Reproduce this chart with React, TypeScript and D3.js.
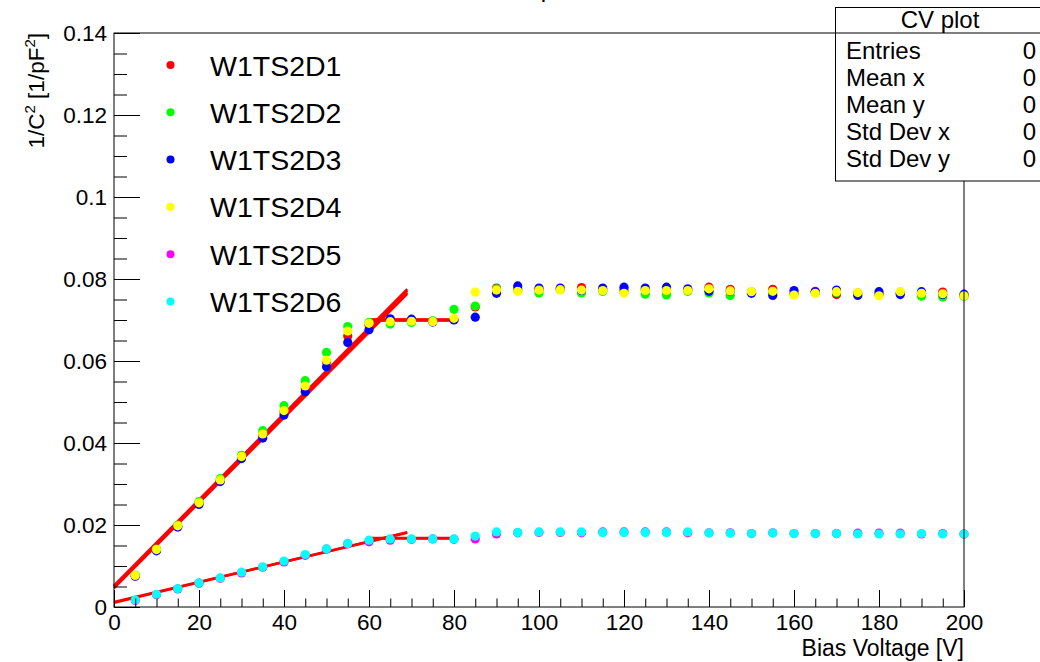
import { useEffect, useRef } from "react";
import * as d3 from "d3";

// bias voltage in V
const voltage = [
  5, 10, 15, 20, 25, 30, 35, 40, 45, 50, 55, 60, 65, 70, 75, 80, 85, 90, 95, 100,
  105, 110, 115, 120, 125, 130, 135, 140, 145, 150, 155, 160, 165, 170, 175, 180,
  185, 190, 195, 200,
];

// 1/C^2 in 1/pF^2
const d1 = [
  0.0076, 0.0139, 0.0197, 0.0253, 0.0309, 0.0365, 0.042, 0.0477, 0.0534, 0.0598,
  0.0661, 0.0688, 0.0697, 0.0699, 0.0697, 0.0701, 0.0732, 0.0778, 0.0776, 0.0774,
  0.0775, 0.0779, 0.0774, 0.0773, 0.0773, 0.0772, 0.0773, 0.078, 0.0775, 0.0768,
  0.0775, 0.0765, 0.077, 0.0762, 0.0766, 0.0763, 0.0766, 0.0765, 0.0768, 0.076,
];
const d2 = [
  0.0078, 0.0141, 0.02, 0.0257, 0.0313, 0.037, 0.043, 0.0491, 0.0552, 0.0621,
  0.0684, 0.0694, 0.069, 0.0694, 0.0698, 0.0726, 0.0734, 0.0776, 0.0772, 0.0766,
  0.0774, 0.0766, 0.077, 0.0768, 0.0763, 0.0761, 0.077, 0.0766, 0.076, 0.0768,
  0.0766, 0.0763, 0.0766, 0.0767, 0.0764, 0.0762, 0.0765, 0.0758, 0.0756, 0.0758,
];
const d3s = [
  0.0075, 0.0137, 0.0195, 0.025, 0.0306, 0.0362, 0.0412, 0.0468, 0.0525, 0.0586,
  0.0645, 0.0676, 0.0703, 0.0702, 0.0695, 0.07, 0.0707, 0.0765, 0.0783, 0.0778,
  0.0778, 0.0772, 0.0778, 0.078, 0.0778, 0.078, 0.0776, 0.077, 0.077, 0.0765,
  0.076, 0.0772, 0.0768, 0.0773, 0.076, 0.0769, 0.0762, 0.0769, 0.0762, 0.0763,
];
const d4 = [
  0.0077, 0.014, 0.0198, 0.0254, 0.031, 0.0367, 0.0422, 0.0479, 0.0539, 0.0602,
  0.0673, 0.0692, 0.0696, 0.0697, 0.0696, 0.0704, 0.0768, 0.0773, 0.077, 0.0773,
  0.0774, 0.0773, 0.0772, 0.0765, 0.0772, 0.0772, 0.0772, 0.0776, 0.0771, 0.0769,
  0.077, 0.0761, 0.0765, 0.0769, 0.0767, 0.0759, 0.0769, 0.0765, 0.0764, 0.0759,
];
const d5 = [
  0.0016, 0.003, 0.0044, 0.0058, 0.007, 0.0083, 0.0097, 0.011, 0.0126, 0.0141,
  0.0154, 0.0159, 0.0163, 0.0165, 0.0166, 0.0165, 0.0166, 0.0178, 0.0181, 0.0182,
  0.0182, 0.0181, 0.0183, 0.0183, 0.0183, 0.0183, 0.0181, 0.0181, 0.0181, 0.0179,
  0.0181, 0.0179, 0.0179, 0.0179, 0.018, 0.018, 0.018, 0.0178, 0.0179, 0.0178,
];
const d6 = [
  0.0017, 0.0031, 0.0045, 0.0059, 0.0071, 0.0085, 0.0098, 0.0112, 0.0128, 0.0142,
  0.0155, 0.0163, 0.0166, 0.0166, 0.0166, 0.0166, 0.0173, 0.0183, 0.0182, 0.0183,
  0.0183, 0.0183, 0.0182, 0.0182, 0.0182, 0.0182, 0.0183, 0.0181, 0.018, 0.0179,
  0.0181, 0.0179, 0.0179, 0.0179, 0.0178, 0.0178, 0.0178, 0.0179, 0.0178, 0.0178,
];

const seriesNames = ["W1TS2D1", "W1TS2D2", "W1TS2D3", "W1TS2D4", "W1TS2D5", "W1TS2D6"];
const seriesValues = [d1, d2, d3s, d4, d5, d6];
const seriesColors = ["#ff0000", "#00ff00", "#0000ff", "#ffff00", "#ff00ff", "#00ffff"];

// linear fits: rising part and flat part, one per series
const riseRange = [0, 69];
const riseIntercept = [0.005, 0.0052, 0.0046, 0.005, 0.001, 0.0012];
const riseSlope = [0.00104, 0.001048, 0.00104, 0.001046, 0.00025, 0.000245];
const flatRange = [60, 80];
const flatLevel = [0.07, 0.0701, 0.0699, 0.07, 0.0168, 0.0167];

const xTicks = [0, 20, 40, 60, 80, 100, 120, 140, 160, 180, 200];
const yTicks = [0, 0.02, 0.04, 0.06, 0.08, 0.1, 0.12, 0.14];

const statLabels = ["Entries", "Mean x", "Mean y", "Std Dev x", "Std Dev y"];
const statValues = ["0", "0", "0", "0", "0"];

const font = "'Liberation Sans', Arial, Helvetica, sans-serif";

export default function App() {
  const width = 1040;
  const height = 662;
  const left = 114,
    right = 964,
    top = 33,
    bottom = 607;

  const x = d3.scaleLinear().domain([0, 200]).range([left, right]);
  const y = d3.scaleLinear().domain([0, 0.14]).range([bottom, top]);

  const xAxisRef = useRef<SVGGElement>(null);
  const yAxisRef = useRef<SVGGElement>(null);

  useEffect(() => {
    const xg = d3.select(xAxisRef.current);
    xg.selectAll("*").remove();
    xg.append("g")
      .call(d3.axisBottom(x).tickValues(d3.range(0, 201, 5)).tickSize(-8.5).tickFormat(() => ""))
      .call((g) => g.select(".domain").remove());
    xg.append("g")
      .call(d3.axisBottom(x).tickValues(xTicks).tickSize(-17).tickPadding(7).tickFormat((d) => String(d)))
      .call((g) => g.select(".domain").remove());
    xg.selectAll("text").attr("font-family", font).attr("font-size", 22.5).attr("fill", "#000");
    xg.selectAll("line").attr("stroke", "#000");

    const yg = d3.select(yAxisRef.current);
    yg.selectAll("*").remove();
    yg.append("g")
      .call(d3.axisLeft(y).tickValues(d3.range(0, 0.1401, 0.005)).tickSize(-13).tickFormat(() => ""))
      .call((g) => g.select(".domain").remove());
    yg.append("g")
      .call(
        d3
          .axisLeft(y)
          .tickValues(yTicks)
          .tickSize(-26)
          .tickPadding(7)
          .tickFormat((d) => String(+(+d).toFixed(3)))
      )
      .call((g) => g.select(".domain").remove());
    yg.selectAll("text").attr("font-family", font).attr("font-size", 22.5).attr("fill", "#000");
    yg.selectAll("line").attr("stroke", "#000");
  }, []);

  const line = d3
    .line<number[]>()
    .x((d) => x(d[0]))
    .y((d) => y(d[1]));

  return (
    <svg
      width={width}
      height={height}
      style={{ position: "absolute", left: 0, top: 0, background: "#fff" }}
      fontFamily={font}
    >
      <rect x={0} y={0} width={width} height={height} fill="#fff" />
      <text x={540} y={-3} textAnchor="middle" fontSize={24}>
        CV plot
      </text>

      {/* fits */}
      <g fill="none" stroke="#ff0000" strokeWidth={2.5}>
        {riseIntercept.map((b, i) => (
          <path
            key={"r" + i}
            d={line(riseRange.map((v) => [v, b + riseSlope[i] * v])) || ""}
          />
        ))}
        {flatLevel.map((lv, i) => (
          <path key={"f" + i} d={line(flatRange.map((v) => [v, lv])) || ""} />
        ))}
      </g>

      {/* points */}
      {seriesValues.map((vals, s) => (
        <g key={s} fill={seriesColors[s]}>
          {vals.map((v, i) => (
            <circle key={i} cx={x(voltage[i])} cy={y(v)} r={4.6} />
          ))}
        </g>
      ))}

      <g ref={xAxisRef} transform={`translate(0,${bottom})`} />
      <g ref={yAxisRef} transform={`translate(${left},0)`} />
      <rect x={left} y={top} width={right - left} height={bottom - top} fill="none" stroke="#000" strokeWidth={1} />

      {/* axis titles */}
      <text x={right} y={656} textAnchor="end" fontSize={23}>
        Bias Voltage [V]
      </text>
      <text transform={`translate(44,${top}) rotate(-90)`} textAnchor="end" fontSize={22.5}>
        1/C
        <tspan fontSize={15} dy={-9}>2</tspan>
        <tspan dy={9}> [1/pF</tspan>
        <tspan fontSize={15} dy={-9}>2</tspan>
        <tspan dy={9}>]</tspan>
      </text>

      {/* legend */}
      {seriesNames.map((name, i) => (
        <g key={name} transform={`translate(0,${65 + i * 47.3})`}>
          <circle cx={170.5} cy={0} r={4} fill={seriesColors[i]} />
          <text x={210} y={10.5} fontSize={28.5}>
            {name}
          </text>
        </g>
      ))}

      {/* stats box */}
      <rect x={835.5} y={7.5} width={220} height={173.5} fill="#fff" stroke="#000" strokeWidth={1} />
      <line x1={835.5} x2={1040} y1={33} y2={33} stroke="#000" />
      <text x={940} y={28} textAnchor="middle" fontSize={24}>
        CV plot
      </text>
      {statLabels.map((lab, i) => (
        <g key={lab}>
          <text x={846} y={59 + i * 27} fontSize={24}>
            {lab}
          </text>
          <text x={1036} y={59 + i * 27} textAnchor="end" fontSize={24}>
            {statValues[i]}
          </text>
        </g>
      ))}
    </svg>
  );
}
